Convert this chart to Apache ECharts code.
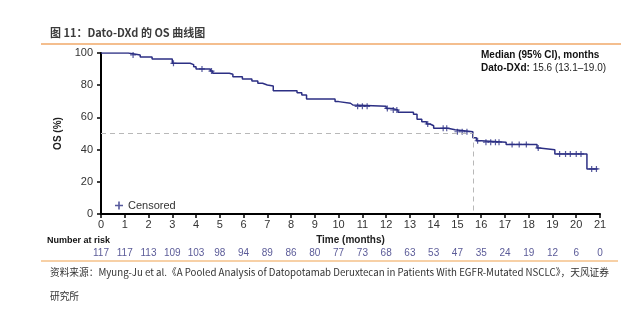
<!DOCTYPE html>
<html>
<head>
<meta charset="utf-8">
<script src="https://cdn.jsdelivr.net/npm/echarts@6/dist/echarts.min.js"></script>
<style>html,body{margin:0;padding:0;background:#fff;}#c{width:641px;height:329px;}</style>
</head>
<body>
<div id="c"></div>
<script>
// Kaplan-Meier step points (time in months, OS %)
var eventTimes = [0, 1.15, 1.65, 2.15, 3.0, 3.75, 3.9, 4.0, 4.6, 4.7, 5.4, 5.55, 5.95, 6.35, 6.6, 6.8, 7.0, 7.25, 8.25, 8.45, 8.65, 9.85, 10.0, 10.5, 10.6, 12.0, 12.25, 12.5, 13.15, 13.3, 13.5, 13.7, 13.85, 14.0, 14.6, 14.9, 15.65, 15.8, 16.0, 17.05, 18.35, 18.45, 19.1, 20.45, 20.9];
var survival   = [100, 98.8, 97.5, 96.2, 93.6, 92.8, 91.5, 90.1, 88.8, 87.4, 86.8, 85.3, 83.9, 82.6, 81.2, 80.1, 79.5, 76.6, 75.3, 73.9, 71.4, 69.8, 68.8, 67.7, 66.9, 65.6, 64.6, 63.2, 61.9, 58.8, 57.3, 55.9, 54.8, 53.2, 52.3, 51.1, 47.3, 45.5, 44.6, 43.2, 41.0, 39.9, 37.3, 28.0, 28.0];
var censorTimes = [1.35, 3.05, 4.25, 4.65, 10.8, 11.0, 11.2, 12.05, 12.3, 12.45, 13.75, 14.4, 14.55, 15.0, 15.2, 15.4, 15.85, 16.2, 16.4, 16.6, 16.75, 17.3, 17.6, 17.9, 18.4, 19.3, 19.55, 19.75, 20.0, 20.2, 20.65, 20.85];
var xTicks = [0,1,2,3,4,5,6,7,8,9,10,11,12,13,14,15,16,17,18,19,20,21];
var yTicks = [0,20,40,60,80,100];
var riskCounts = [117,117,113,109,103,98,94,89,86,80,77,73,68,63,53,47,35,24,19,12,6,0];
var medianOS = 15.65;

function survAt(t){
  var s = survival[0];
  for (var i=0;i<eventTimes.length;i++){ if (eventTimes[i] <= t) s = survival[i]; }
  return s;
}
var kmData = eventTimes.map(function(t,i){return [t, survival[i]];});
var censorData = censorTimes.map(function(t){return [t, survAt(t)];});
var plusPath = 'path://M4,0H6V4H10V6H6V10H4V6H0V4H4Z';
var navy = '#2c2f84';
var F = '"Liberation Sans", Arial, sans-serif';
var CJK = '"Noto Sans CJK SC", sans-serif';

var chart = echarts.init(document.getElementById('c'), null, {renderer:'canvas'});
chart.setOption({
  animation:false,
  backgroundColor:'#fff',
  grid:{left:101, right:41, top:53, bottom:115},
  xAxis:[{
    type:'value', min:0, max:21, interval:1,
    axisLine:{lineStyle:{color:'#000', width:2}},
    axisTick:{length:4, lineStyle:{color:'#000', width:1.5}},
    axisLabel:{color:'#333', fontFamily:F, fontSize:11, margin:5, formatter:function(v){return xTicks.indexOf(v)>=0?String(v):'';}},
    splitLine:{show:false},
    name:'Time (months)', nameLocation:'middle', nameGap:21,
    nameTextStyle:{fontFamily:F, fontWeight:'bold', fontSize:10, color:'#222'}
  },{
    type:'value', min:0, max:21, interval:1, position:'bottom', offset:34,
    axisLine:{show:false}, axisTick:{show:false}, splitLine:{show:false},
    axisLabel:{color:'#5b5b98', fontFamily:F, fontSize:10, margin:0, formatter:function(v){return String(riskCounts[v]);}}
  }],
  yAxis:{
    type:'value', min:0, max:100, interval:20,
    axisLine:{show:true, lineStyle:{color:'#000', width:2}},
    axisTick:{show:true, length:4, lineStyle:{color:'#000', width:1.5}},
    axisLabel:{color:'#333', fontFamily:F, fontSize:11, margin:8},
    splitLine:{show:false},
    name:'OS (%)', nameLocation:'middle', nameGap:33, nameRotate:90,
    nameTextStyle:{fontFamily:F, fontWeight:'bold', fontSize:10, color:'#222'}
  },
  legend:{
    left:110, top:195, data:[{name:'Censored', icon:plusPath}],
    itemWidth:8, itemHeight:8, itemGap:4,
    textStyle:{fontFamily:F, fontSize:11, color:'#333'}
  },
  title:{
    text:'图 11：Dato-DXd 的 OS 曲线图', left:45, top:22,
    textStyle:{fontFamily:CJK, fontWeight:'bold', fontSize:11, color:'#3a3a3a'}
  },
  series:[{
    name:'OS', type:'line', step:'end', data:kmData, showSymbol:false, symbol:'none',
    lineStyle:{color:navy, width:1.5}, z:3,
    markLine:{
      silent:true, symbol:'none', label:{show:false},
      lineStyle:{color:'#b8b8b8', type:[5,4], width:1},
      data:[[{coord:[0,50]},{coord:[medianOS,50]}],[{coord:[medianOS,50]},{coord:[medianOS,0]}]]
    }
  },{
    name:'Censored', type:'scatter', data:censorData, symbol:plusPath, symbolSize:6,
    itemStyle:{color:navy}, z:4
  }],
  graphic:[
    {type:'line', shape:{x1:41, y1:44, x2:621, y2:44}, style:{stroke:'#f0a868', lineWidth:1.5}},
    {type:'line', shape:{x1:41, y1:261, x2:618, y2:261}, style:{stroke:'#f5c089', lineWidth:1.5}},
    {type:'text', left:481, top:50, style:{text:'Median (95% CI), months', font:'bold 10px "Liberation Sans", Arial', fill:'#111'}},
    {type:'text', left:481, top:63, style:{text:'{b|Dato-DXd:} 15.6 (13.1–19.0)', font:'10px "Liberation Sans", Arial', fill:'#222', rich:{b:{fontWeight:'bold', fontSize:10, fontFamily:F, fill:'#111'}}}},
    {type:'text', left:47, top:236, style:{text:'Number at risk', font:'bold 9px "Liberation Sans", Arial', fill:'#111'}},
    {type:'text', left:50, top:267, style:{text:'资料来源：Myung-Ju et al.《A Pooled Analysis of Datopotamab Deruxtecan in Patients With EGFR-Mutated NSCLC》，天风证券', font:'9.7px "Noto Sans CJK SC", sans-serif', fill:'#333'}},
    {type:'text', left:50, top:291, style:{text:'研究所', font:'9.7px "Noto Sans CJK SC", sans-serif', fill:'#333'}}
  ]
});
</script>
</body>
</html>
